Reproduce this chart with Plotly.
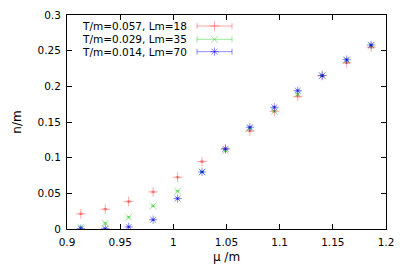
import plotly.graph_objects as go

mu = [0.913, 0.936, 0.958, 0.981, 1.004, 1.027, 1.049, 1.072, 1.095, 1.117, 1.140, 1.163, 1.186]
n_red = [0.0213, 0.0277, 0.0385, 0.052, 0.0725, 0.0945, 0.112, 0.1375, 0.165, 0.186, 0.215, 0.233, 0.255]
n_green = [0.0025, 0.008, 0.0165, 0.0325, 0.053, 0.080, 0.110, 0.141, 0.165, 0.189, 0.215, 0.236, 0.257]
n_blue = [0.0005, 0.0005, 0.003, 0.013, 0.0427, 0.080, 0.1125, 0.1426, 0.1706, 0.194, 0.215, 0.2374, 0.258]
err = [0.001] * len(mu)
labels = ["T/m=0.057, Lm=18", "T/m=0.029, Lm=35", "T/m=0.014, Lm=70"]
colors = ["rgba(255,0,0,0.35)", "rgba(0,200,0,0.4)", "rgba(0,0,255,0.45)"]
symbols = ["cross-thin", "x-thin", "asterisk"]
series = [n_red, n_green, n_blue]

# page body has an 8px default margin; compensate so plot sits where the reference does
OFF = 8
W, H = 407 - OFF, 271 - OFF
ML, MR, MT, MB = 67 - OFF, 21, 15 - OFF, 42
PW, PH = W - ML - MR, H - MT - MB

def fx(px):
    return (px - OFF - ML) / PW

def fy(py):
    return (H - MB - (py - OFF)) / PH

fig = go.Figure()
for s, lab, c, sym in zip(series, labels, colors, symbols):
    fig.add_trace(go.Scatter(
        x=mu, y=s, mode="markers", name=lab, showlegend=False,
        marker=dict(symbol=sym, size=7, color=c, line=dict(color=c, width=1)),
        error_y=dict(type="data", array=err, color=c, thickness=1, width=2),
    ))

# custom gnuplot-style key (text, then sample with error-bar caps)
rows = [26, 39.3, 51.7]
annotations = []
shapes = []
for lab, c, sym, ry in zip(labels, colors, symbols, rows):
    annotations.append(dict(x=fx(189), y=fy(ry), xref="paper", yref="paper", text=lab,
                            showarrow=False, xanchor="right", yanchor="middle",
                            font=dict(family="DejaVu Sans", size=10.5, color="black")))
    shapes.append(dict(type="line", xref="paper", yref="paper", x0=fx(197), x1=fx(232),
                       y0=fy(ry), y1=fy(ry), line=dict(color=c, width=1)))
    for ex in (197, 232):
        shapes.append(dict(type="line", xref="paper", yref="paper", x0=fx(ex), x1=fx(ex),
                           y0=fy(ry - 3), y1=fy(ry + 3), line=dict(color=c, width=1)))
    fig.add_trace(go.Scatter(x=[fx(214.5)], y=[fy(ry)], xaxis="x2", yaxis="y2", mode="markers",
                             showlegend=False, hoverinfo="skip",
                             marker=dict(symbol=sym, size=7, color=c, line=dict(color=c, width=1))))

axis_common = dict(showline=True, linecolor="black", linewidth=1, mirror="allticks",
                   ticks="inside", ticklen=5, tickcolor="black", showgrid=False, zeroline=False,
                   automargin=False, ticklabelstandoff=3,
                   tickfont=dict(family="DejaVu Sans", size=10.5, color="black"))

fig.update_layout(
    width=W, height=H,
    margin=dict(l=ML, r=MR, t=MT, b=MB),
    paper_bgcolor="white", plot_bgcolor="white",
    showlegend=False,
    xaxis=dict(range=[0.9, 1.2], dtick=0.05, tick0=0.9,
               title=dict(text="μ /m", font=dict(family="DejaVu Sans", size=12, color="black"), standoff=6),
               **axis_common),
    yaxis=dict(range=[0, 0.3], dtick=0.05, tick0=0,
               title=dict(text="n/m", font=dict(family="DejaVu Sans", size=12, color="black"), standoff=13),
               **axis_common),
    xaxis2=dict(range=[0, 1], overlaying="x", visible=False, domain=[0, 1], anchor="y2"),
    yaxis2=dict(range=[0, 1], overlaying="y", visible=False, anchor="x2"),
    annotations=annotations,
    shapes=shapes,
)

fig.write_html("out.html")
